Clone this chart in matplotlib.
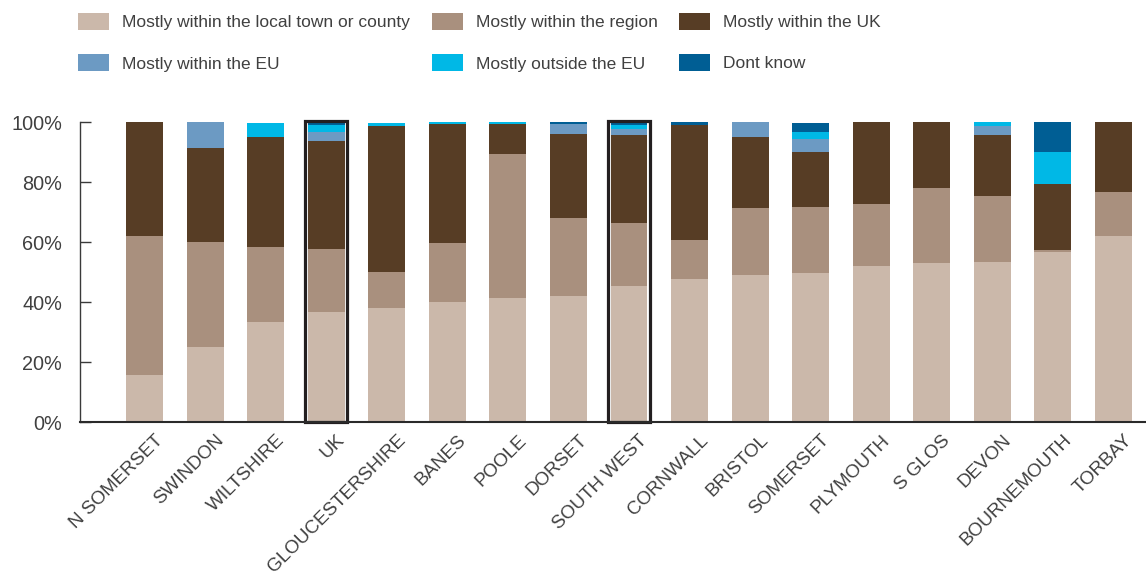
import matplotlib
matplotlib.use("Agg")
import matplotlib.pyplot as plt
from matplotlib.patches import Rectangle
import matplotlib.transforms as mtransforms
import numpy as np

categories = ["N SOMERSET", "SWINDON", "WILTSHIRE", "UK", "GLOUCESTERSHIRE", "BANES",
              "POOLE", "DORSET", "SOUTH WEST", "CORNWALL", "BRISTOL", "SOMERSET",
              "PLYMOUTH", "S GLOS", "DEVON", "BOURNEMOUTH", "TORBAY"]

local_town = [15.7, 25.0, 33.2, 36.7, 38.0, 40.0, 41.3, 42.0, 45.3, 47.7, 49.0, 49.7, 52.0, 53.0, 53.3, 56.7, 62.0]
within_region = [46.3, 35.0, 25.1, 21.0, 12.0, 19.7, 48.0, 26.0, 21.0, 13.0, 22.3, 22.0, 20.7, 25.0, 22.0, 0.7, 14.7]
within_uk = [38.0, 31.3, 36.7, 36.0, 48.7, 39.7, 10.0, 28.0, 29.3, 38.3, 23.7, 18.3, 27.3, 22.0, 20.3, 22.0, 23.3]
within_eu = [0, 8.7, 0, 3.0, 0, 0, 0, 3.3, 2.0, 0, 5.0, 4.3, 0, 0, 3.0, 0, 0]
outside_eu = [0, 0, 4.7, 2.3, 1.0, 0.7, 0.7, 0, 1.3, 0, 0, 2.4, 0, 0, 1.3, 10.7, 0]
dont_know = [0, 0, 0, 1.0, 0, 0, 0, 0.7, 1.0, 1.0, 0, 3.0, 0, 0, 0, 10.3, 0]

series_names = ["Mostly within the local town or county", "Mostly within the region",
                "Mostly within the UK", "Mostly within the EU", "Mostly outside the EU",
                "Dont know"]
series_values = [local_town, within_region, within_uk, within_eu, outside_eu, dont_know]
series_colors = ["#CBB8AA", "#A9907E", "#573D25", "#6C9AC3", "#00B8E6", "#005E94"]

highlighted = ["UK", "SOUTH WEST"]

TEXT = "#404040"
FONT = ["Liberation Sans", "DejaVu Sans"]
plt.rcParams["font.family"] = FONT

W, H = 1146, 575
fig = plt.figure(figsize=(W / 100, H / 100), dpi=100)
ax = fig.add_axes([80 / W, 1 - 422 / H, (1145 - 80) / W, 300 / H])

x = np.arange(len(categories))
bottom = np.zeros(len(categories))
for vals, col in zip(series_values, series_colors):
    v = np.array(vals, dtype=float)
    ax.bar(x, v, width=0.61, bottom=bottom, color=col, linewidth=0, zorder=2)
    bottom += v

# outline boxes around the highlighted columns
for name in highlighted:
    i = categories.index(name)
    ax.add_patch(Rectangle((i - 0.343, 0), 0.686, 100.4, fill=False,
                           edgecolor="#231F20", linewidth=2.3, zorder=4,
                           clip_on=False))

ax.set_xlim(-1.065, 16.52)
ax.set_ylim(0, 100)

for side in ("top", "right"):
    ax.spines[side].set_visible(False)
ax.spines["left"].set_color("#3a3a3a")
ax.spines["left"].set_linewidth(1.0)
ax.spines["bottom"].set_color("#2a2a2a")
ax.spines["bottom"].set_linewidth(1.5)
ax.spines["bottom"].set_zorder(5)

ax.set_yticks([0, 20, 40, 60, 80, 100])
ax.set_yticklabels([f"{v}%" for v in range(0, 101, 20)])
ax.tick_params(axis="y", direction="in", length=8, width=1, color="#3a3a3a",
               labelsize=14.3, labelcolor=TEXT, pad=13)

ax.set_xticks(x)
ax.set_xticklabels(categories, rotation=45, ha="right", rotation_mode="anchor",
                   fontsize=13.6, color=TEXT)
ax.tick_params(axis="x", length=0, pad=7)
offset = mtransforms.ScaledTranslation(10 / 100, 0, fig.dpi_scale_trans)
for lbl in ax.get_xticklabels():
    lbl.set_transform(lbl.get_transform() + offset)

# legend: three columns, two rows
col_x = [78, 432, 679]
row_y = [21.5, 62.5]
for k, (name, col) in enumerate(zip(series_names, series_colors)):
    cx = col_x[k % 3]
    cy = row_y[k // 3]
    fig.patches.append(Rectangle((cx / W, 1 - (cy + 8.5) / H), 31 / W, 17 / H,
                                 transform=fig.transFigure, facecolor=col,
                                 edgecolor="none"))
    fig.text((cx + 44) / W, 1 - (cy + 1.5) / H, name, fontsize=12.5, color=TEXT,
             va="center", ha="left")

fig.savefig("out.png", dpi=100)
